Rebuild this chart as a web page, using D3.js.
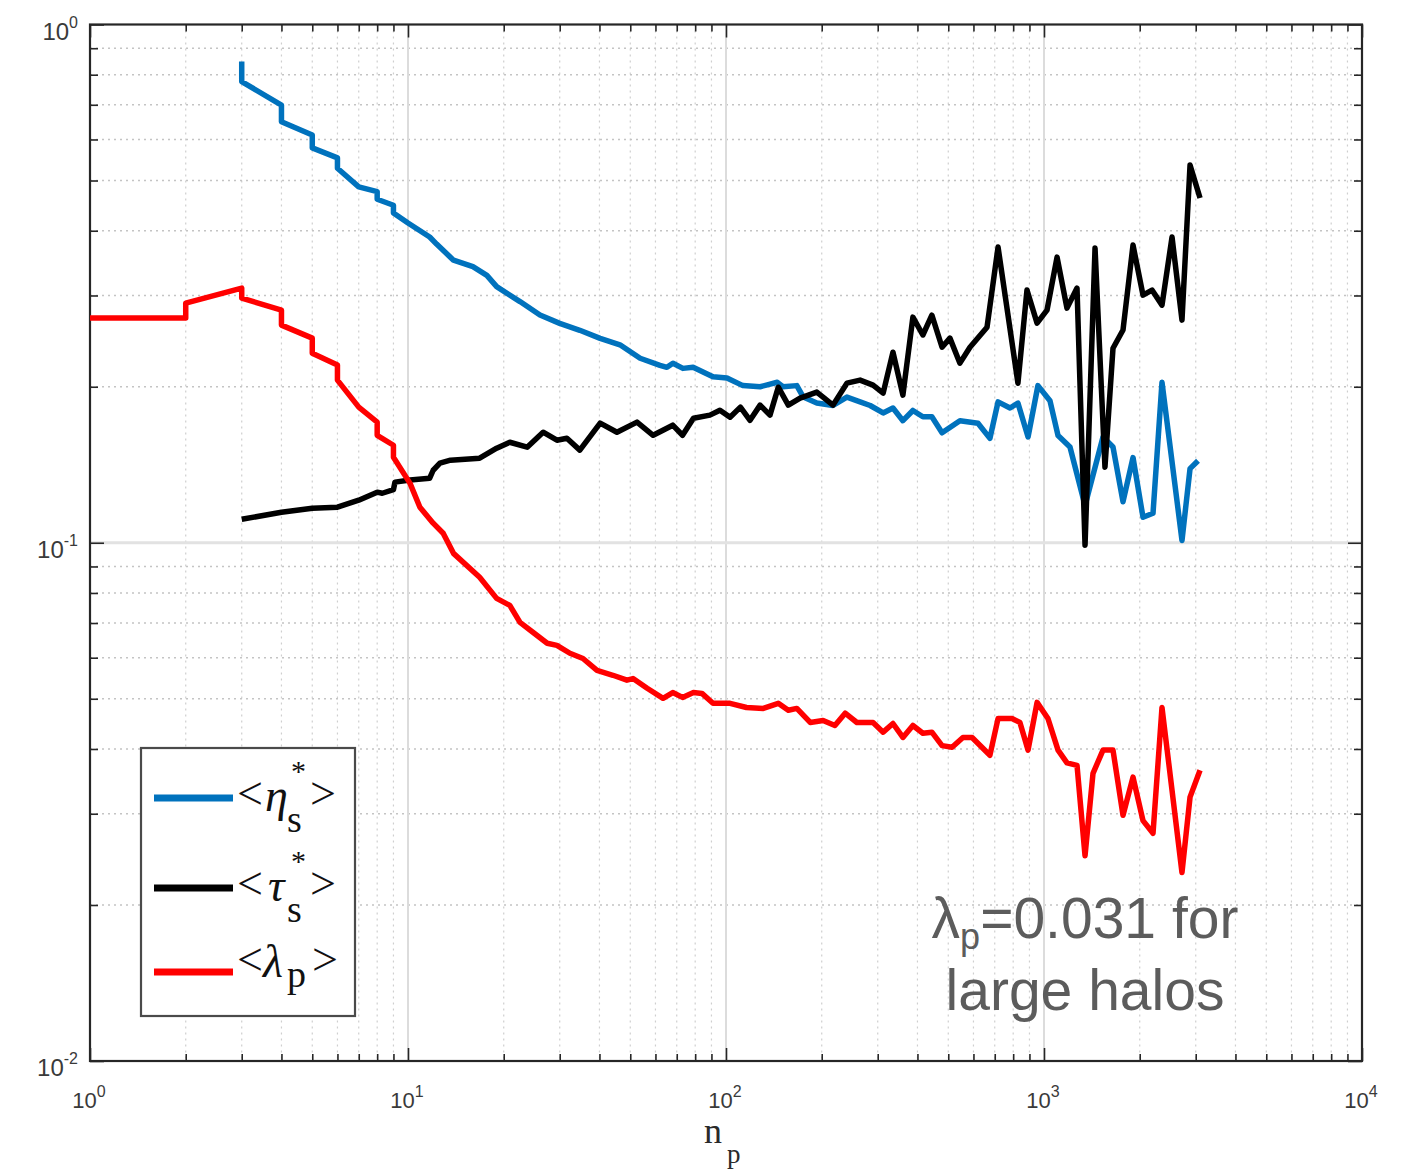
<!DOCTYPE html>
<html>
<head>
<meta charset="utf-8">
<script src="https://cdn.jsdelivr.net/npm/d3@7"></script>
<style>
  body { margin: 0; background: #fff; }
  svg { display: block; }
</style>
</head>
<body>
<svg id="chart" width="1409" height="1171"></svg>
<script>
// ---- data -------------------------------------------------------------
// decade exponents used for the tick labels
const xDecades = [0, 1, 2, 3, 4];
const yDecades = [0, -1, -2];

// <eta_s*> versus n_p
const etaStar = [
  [3, 0.848], [3, 0.776], [4, 0.699], [4, 0.649], [5, 0.612], [5, 0.578],
  [6, 0.553], [6, 0.528], [7, 0.486], [8, 0.476], [8, 0.460], [9, 0.448],
  [9, 0.433], [10, 0.414], [11.7, 0.389], [12.3, 0.377], [13.9, 0.351],
  [16, 0.341], [17.7, 0.328], [19, 0.312], [22.5, 0.292], [26, 0.275],
  [30, 0.265], [34.7, 0.257], [40.2, 0.248], [46.4, 0.241], [53.7, 0.227],
  [62, 0.220], [65.2, 0.218], [68.1, 0.222], [73.2, 0.217], [78.8, 0.218],
  [91, 0.209], [100.7, 0.208], [113, 0.201], [128, 0.200], [145, 0.204],
  [151, 0.200], [167, 0.201], [175, 0.191], [193, 0.186], [217, 0.184],
  [240, 0.191], [264, 0.187], [284, 0.184], [312, 0.178], [335, 0.182],
  [360, 0.172], [387, 0.180], [416, 0.175], [444, 0.175], [478, 0.163],
  [544, 0.172], [620, 0.170], [676, 0.159], [717, 0.187], [782, 0.182],
  [828, 0.186], [891, 0.160], [957, 0.201], [1044, 0.188], [1107, 0.161],
  [1207, 0.153], [1346, 0.118], [1533, 0.160], [1648, 0.153], [1772, 0.120],
  [1905, 0.146], [2048, 0.112], [2202, 0.114], [2350, 0.204], [2716, 0.101],
  [2879, 0.139], [3050, 0.144]
];

// <tau_s*> versus n_p
const tauStar = [
  [3, 0.111], [4, 0.1145], [5, 0.1166], [6, 0.1171], [7, 0.1208], [8, 0.1252],
  [8.3, 0.1246], [9, 0.1266], [9.1, 0.1309], [10.15, 0.1321], [11.7, 0.1332],
  [12, 0.138], [12.6, 0.1424], [13.6, 0.1443], [16.8, 0.1456], [19, 0.1522],
  [20.9, 0.1563], [23.7, 0.1529], [26.6, 0.1634], [29.4, 0.1577], [31.6, 0.1591],
  [34.7, 0.1509], [40.2, 0.1701], [45.4, 0.1634], [52.5, 0.1709], [59, 0.1612],
  [68, 0.1686], [73, 0.1612], [79, 0.1739], [89, 0.1763], [95.7, 0.1802],
  [103, 0.1747], [111, 0.1827], [119, 0.1723], [128, 0.1843], [137.5, 0.1763],
  [146, 0.1996], [157, 0.1843], [171, 0.1901], [193, 0.1953], [217, 0.1843],
  [240, 0.2032], [264, 0.206], [290, 0.2014], [312, 0.1944], [335, 0.2332],
  [360, 0.1927], [387, 0.2725], [416, 0.2517], [444, 0.2749], [478, 0.2384],
  [506, 0.2482], [544, 0.2221], [585, 0.2384], [662, 0.2606], [717, 0.372],
  [828, 0.2032], [884, 0.3073], [951, 0.2653], [1022, 0.2811], [1099, 0.3557],
  [1181, 0.2836], [1270, 0.31], [1346, 0.0989], [1447, 0.3703], [1555, 0.1399],
  [1648, 0.2373], [1772, 0.2573], [1905, 0.3753], [2048, 0.3005], [2186, 0.3073],
  [2350, 0.2874], [2527, 0.3889], [2716, 0.2689], [2879, 0.5354], [3095, 0.4627]
];

// <lambda_p> versus n_p
const lambdaP = [
  [1, 0.2713], [2, 0.2713], [2, 0.29], [3, 0.31], [3, 0.2965], [4, 0.2811],
  [4, 0.263], [5, 0.2482], [5, 0.2322], [6, 0.2202], [6, 0.206], [7, 0.1827],
  [8, 0.1709], [8, 0.1612], [9, 0.1542], [9, 0.1462], [10.15, 0.1302],
  [10.9, 0.1171], [12, 0.1091], [12.9, 0.1043], [13.9, 0.0954], [16.8, 0.0858],
  [19, 0.0781], [20.9, 0.0757], [22.5, 0.0702], [24.7, 0.0672], [27.4, 0.064],
  [29.4, 0.0634], [32.3, 0.0612], [35.5, 0.0598], [39.3, 0.0567], [44.1, 0.0555],
  [48.8, 0.0543], [51, 0.0547], [56.5, 0.0524], [63.4, 0.0501], [68, 0.0514],
  [73, 0.0503], [79, 0.0514], [84, 0.0512], [91, 0.049], [103, 0.049],
  [116, 0.0481], [131, 0.0479], [146, 0.049], [157, 0.0475], [167, 0.0479],
  [184, 0.045], [202, 0.0454], [220, 0.0444], [237, 0.0469], [258, 0.045],
  [290, 0.045], [312, 0.0431], [335, 0.0448], [360, 0.0421], [387, 0.0444],
  [416, 0.0429], [444, 0.0431], [478, 0.0406], [514, 0.0403], [556, 0.0421],
  [594, 0.0421], [676, 0.0389], [717, 0.0458], [793, 0.0458], [840, 0.045],
  [891, 0.0398], [951, 0.0492], [1029, 0.0458], [1107, 0.0398], [1181, 0.0376],
  [1270, 0.0372], [1346, 0.0249], [1426, 0.0359], [1533, 0.0398], [1648, 0.0398],
  [1772, 0.0298], [1905, 0.0353], [2048, 0.0291], [2202, 0.0275], [2350, 0.0481],
  [2716, 0.0231], [2879, 0.0323], [3095, 0.0364]
];

// legend entries: main symbol, subscript, starred or not
const legendSymbols = ["η", "τ", "λ"];
const legendSubs = ["s", "s", "p"];
const legendStars = [true, true, false];
const seriesColors = ["#0072BD", "#000000", "#FF0000"];

// annotation text
const noteSymbol = "λ";
const noteSub = "p";
const noteRest = "=0.031 for";
const noteLine2 = "large halos";
const xAxisSymbol = "n";
const xAxisSub = "p";

// ---- layout -----------------------------------------------------------
const svg = d3.select("#chart");
const plot = { left: 90, right: 1362, top: 24.5, bottom: 1061 };
const x = d3.scaleLog().domain([1, 1e4]).range([plot.left, plot.right]);
const y = d3.scaleLog().domain([0.01, 1]).range([plot.bottom, plot.top]);

const isDecade = v => Math.abs(Math.log10(v) - Math.round(Math.log10(v))) < 1e-9;
const xMajor = xDecades.map(e => Math.pow(10, e));
const yMajor = yDecades.map(e => Math.pow(10, e));
const xMinor = x.ticks().filter(v => !isDecade(v));
const yMinor = y.ticks().filter(v => !isDecade(v));

// ---- grid -------------------------------------------------------------
const grid = svg.append("g");
grid.selectAll(".vminor").data(xMinor).join("line")
  .attr("x1", d => x(d)).attr("x2", d => x(d))
  .attr("y1", plot.top).attr("y2", plot.bottom)
  .attr("stroke", "#cfcfcf").attr("stroke-width", 1.2).attr("stroke-dasharray", "2,4");
grid.selectAll(".hminor").data(yMinor).join("line")
  .attr("y1", d => y(d)).attr("y2", d => y(d))
  .attr("x1", plot.left).attr("x2", plot.right)
  .attr("stroke", "#c4c4c4").attr("stroke-width", 1.4).attr("stroke-dasharray", "2,4");
grid.selectAll(".vmajor").data(xMajor.filter(v => v > 1 && v < 1e4)).join("line")
  .attr("x1", d => x(d)).attr("x2", d => x(d))
  .attr("y1", plot.top).attr("y2", plot.bottom)
  .attr("stroke", "#dcdcdc").attr("stroke-width", 2);
grid.selectAll(".hmajor").data(yMajor.filter(v => v > 0.01 && v < 1)).join("line")
  .attr("y1", d => y(d)).attr("y2", d => y(d))
  .attr("x1", plot.left).attr("x2", plot.right)
  .attr("stroke", "#e2e2e2").attr("stroke-width", 3);

// ---- ticks on all four sides -----------------------------------------
function tickAxis(axis, transform, values, size) {
  const g = svg.append("g").attr("transform", transform)
    .call(axis.tickValues(values).tickSize(-size).tickSizeOuter(0).tickFormat(""));
  g.select(".domain").remove();
  g.selectAll(".tick line").attr("stroke", "#262626").attr("stroke-width", 1.6);
}
tickAxis(d3.axisBottom(x), `translate(0,${plot.bottom})`, xMinor, 7);
tickAxis(d3.axisBottom(x), `translate(0,${plot.bottom})`, xMajor, 13);
tickAxis(d3.axisTop(x), `translate(0,${plot.top})`, xMinor, 7);
tickAxis(d3.axisTop(x), `translate(0,${plot.top})`, xMajor, 13);
tickAxis(d3.axisLeft(y), `translate(${plot.left},0)`, yMinor, 8);
tickAxis(d3.axisLeft(y), `translate(${plot.left},0)`, yMajor, 14);
tickAxis(d3.axisRight(y), `translate(${plot.right},0)`, yMinor, 8);
tickAxis(d3.axisRight(y), `translate(${plot.right},0)`, yMajor, 14);

// frame
svg.append("rect")
  .attr("x", plot.left).attr("y", plot.top)
  .attr("width", plot.right - plot.left).attr("height", plot.bottom - plot.top)
  .attr("fill", "none").attr("stroke", "#262626").attr("stroke-width", 2.2);

// ---- tick labels ------------------------------------------------------
const labelFont = "'Liberation Sans', Arial, Helvetica, sans-serif";
const xl = svg.append("g").attr("font-family", labelFont).attr("fill", "#3a3a3a");
xDecades.forEach(e => {
  const t = xl.append("text")
    .attr("x", x(Math.pow(10, e)) - 1).attr("y", plot.bottom + 47)
    .attr("text-anchor", "middle").attr("font-size", 22);
  t.append("tspan").text("10");
  t.append("tspan").attr("dy", -11).attr("font-size", 16).text(e);
});
const yl = svg.append("g").attr("font-family", labelFont).attr("fill", "#3a3a3a");
yDecades.forEach(e => {
  const t = yl.append("text")
    .attr("x", 78).attr("y", y(Math.pow(10, e)) + 15)
    .attr("text-anchor", "end").attr("font-size", 24);
  t.append("tspan").text("10");
  t.append("tspan").attr("dy", -12).attr("font-size", 16).text(e);
});

// x-axis title n_p
const serif = "'Liberation Serif', 'Times New Roman', serif";
svg.append("text").attr("x", 704).attr("y", 1143)
  .attr("font-family", serif).attr("font-size", 36).attr("fill", "#2a2a2a")
  .text(xAxisSymbol);
svg.append("text").attr("x", 727).attr("y", 1163)
  .attr("font-family", serif).attr("font-size", 27).attr("fill", "#2a2a2a")
  .text(xAxisSub);

// ---- series -----------------------------------------------------------
const line = d3.line().x(d => x(d[0])).y(d => y(d[1]));
const series = [etaStar, tauStar, lambdaP];
svg.append("g").selectAll("path").data(series).join("path")
  .attr("d", line)
  .attr("fill", "none")
  .attr("stroke", (d, i) => seriesColors[i])
  .attr("stroke-width", 5.5)
  .attr("stroke-linejoin", "round");

// ---- legend -----------------------------------------------------------
const legend = svg.append("g");
legend.append("rect")
  .attr("x", 141).attr("y", 748).attr("width", 214).attr("height", 268)
  .attr("fill", "#fff").attr("stroke", "#4a4a4a").attr("stroke-width", 2.2);

const rowY = [798, 888, 972];         // sample line positions
const textY = [809, 899, 975];        // baselines of the bracket glyphs
const symX = [265, 268, 263];
legendSymbols.forEach((sym, i) => {
  legend.append("line")
    .attr("x1", 154).attr("x2", 233).attr("y1", rowY[i]).attr("y2", rowY[i])
    .attr("stroke", seriesColors[i]).attr("stroke-width", 7);
  const g = legend.append("g").attr("font-family", serif).attr("fill", "#111");
  g.append("text").attr("x", 237).attr("y", textY[i]).attr("font-size", 46).text("<");
  g.append("text").attr("x", symX[i]).attr("y", textY[i] + 2)
    .attr("font-size", 46).attr("font-style", "italic").text(sym);
  g.append("text").attr("x", 287).attr("y", textY[i] + (i === 2 ? 12 : 23))
    .attr("font-size", 38).text(legendSubs[i]);
  if (legendStars[i]) {
    g.append("text").attr("x", 291).attr("y", textY[i] - 28)
      .attr("font-size", 30).text("*");
  }
  g.append("text").attr("x", i === 2 ? 312 : 310).attr("y", textY[i])
    .attr("font-size", 46).text(">");
});

// ---- annotation -------------------------------------------------------
const note = svg.append("g").attr("font-family", labelFont).attr("fill", "#5c5c5c");
const l1 = note.append("text").attr("x", 1085).attr("y", 938)
  .attr("text-anchor", "middle").attr("font-size", 57);
l1.append("tspan").text(noteSymbol);
l1.append("tspan").attr("dy", 11).attr("font-size", 36).text(noteSub);
l1.append("tspan").attr("dy", -11).text(noteRest);
note.append("text").attr("x", 1085).attr("y", 1010)
  .attr("text-anchor", "middle").attr("font-size", 57).text(noteLine2);
</script>
</body>
</html>
